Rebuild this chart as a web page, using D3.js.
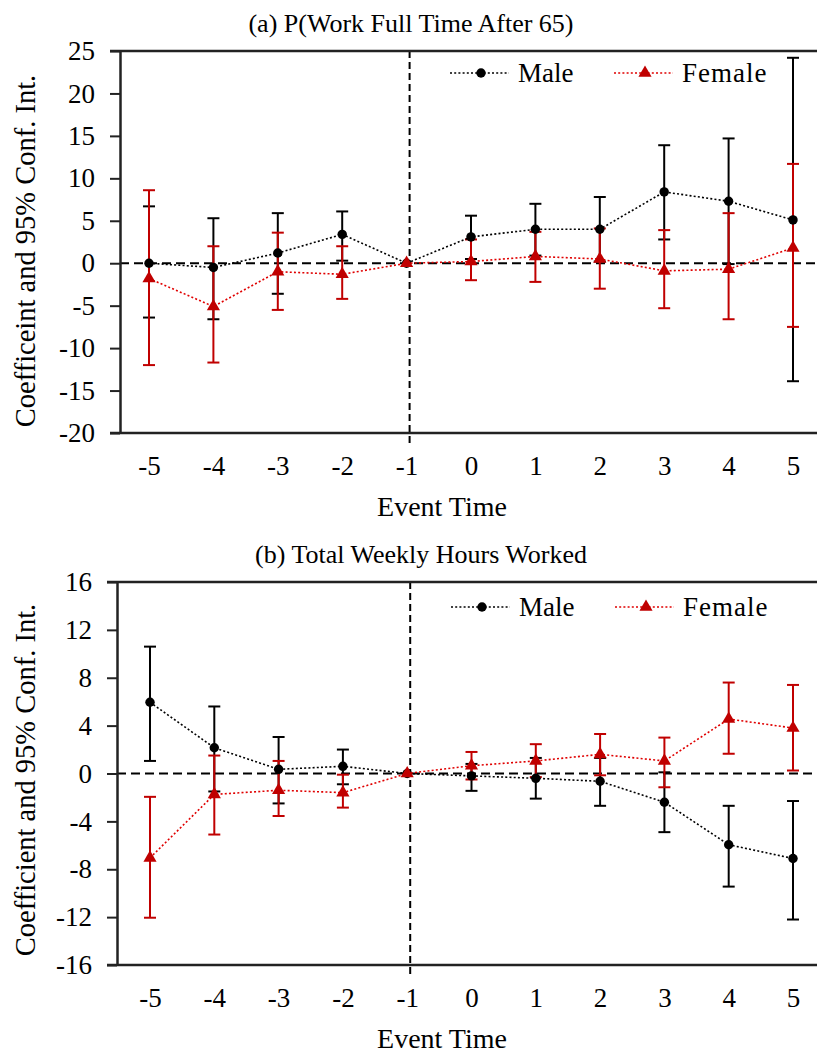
<!DOCTYPE html>
<html>
<head>
<meta charset="utf-8">
<title>Event study</title>
<script src="https://cdn.jsdelivr.net/npm/d3@7"></script>
<style>
*{ margin:0; padding:0; }
body{ background:#fff; }
svg{ display:block; font-family:"Liberation Serif","Times New Roman",serif; }
</style>
</head>
<body>
<script>

var W = 817, H = 1055;

// event time categories
var eventTime = [-5, -4, -3, -2, -1, 0, 1, 2, 3, 4, 5];

// panel a: P(work full time after 65)
var ticksA = [-20, -15, -10, -5, 0, 5, 10, 15, 20, 25];
var maleA    = [0.0, -0.5, 1.2, 3.4, 0, 3.1, 4.0, 4.0, 8.4, 7.3, 5.1];
var maleALo  = [-6.4, -6.6, -3.6, 0.3, null, 0.5, 0.9, 0.2, 2.8, -0.1, -13.9];
var maleAHi  = [6.7, 5.3, 5.9, 6.1, null, 5.6, 7.0, 7.8, 13.9, 14.7, 24.2];
var femaleA   = [-1.8, -5.1, -1.0, -1.3, 0, 0.2, 0.8, 0.5, -0.9, -0.7, 1.8];
var femaleALo = [-12.0, -11.7, -5.5, -4.2, null, -2.0, -2.2, -3.0, -5.3, -6.6, -7.5];
var femaleAHi = [8.6, 2.0, 3.6, 2.0, null, 2.8, 3.7, 4.1, 3.9, 5.9, 11.7];

// panel b: total weekly hours worked
var ticksB = [-16, -12, -8, -4, 0, 4, 8, 12, 16];
var maleB    = [5.95, 2.15, 0.35, 0.6, 0, -0.2, -0.4, -0.65, -2.4, -5.95, -7.1];
var maleBLo  = [1.05, -1.5, -2.5, -0.9, null, -1.45, -2.1, -2.7, -4.9, -9.45, -12.2];
var maleBHi  = [10.6, 5.6, 3.05, 2.0, null, 0.8, 1.3, 1.3, 0.1, -2.7, -2.3];
var femaleB   = [-7.05, -1.75, -1.4, -1.6, 0, 0.65, 1.05, 1.6, 1.05, 4.55, 3.8];
var femaleBLo = [-12.05, -5.1, -3.55, -2.85, null, -0.5, -0.3, -0.15, -1.15, 1.65, 0.25];
var femaleBHi = [-1.95, 1.5, 1.05, -0.1, null, 1.8, 2.45, 3.3, 3.0, 7.6, 7.4];

var RED = "#c00000";

var svg = d3.select("body").append("svg")
	.attr("width", W)
	.attr("height", H);

// plain hyphen for negative numbers, like the original
var fmt = function(d){ return String(d); };

function series(vals, lo, hi){
	return eventTime.map(function(t, i){ return {t: t, v: vals[i], lo: lo[i], hi: hi[i]}; });
}

function panel(p){
	var g = svg.append("g");
	var x = d3.scaleLinear().domain([-5, 5]).range([p.x0, p.x1]);
	var y = d3.scaleLinear().domain(d3.extent(p.ticks)).range([p.bottom, p.top]);

	// title
	g.append("text")
		.attr("x", p.titleX).attr("y", p.top - 19)
		.attr("text-anchor", "middle")
		.style("font-size", "26px")
		.text(p.title);

	// zero line
	g.append("line")
		.attr("x1", p.left).attr("x2", W + 10)
		.attr("y1", y(0)).attr("y2", y(0))
		.attr("stroke", "#000").attr("stroke-width", 2)
		.attr("stroke-dasharray", "9,5");

	// event line
	g.append("line")
		.attr("x1", x(-1) + 3).attr("x2", x(-1) + 3)
		.attr("y1", p.top).attr("y2", p.bottom + 12)
		.attr("stroke", "#000").attr("stroke-width", 2)
		.attr("stroke-dasharray", "7,4");

	// frame: top & bottom lines, left axis
	[p.top, p.bottom].forEach(function(yy){
		g.append("line")
			.attr("x1", p.left - 10).attr("x2", W + 10)
			.attr("y1", yy).attr("y2", yy)
			.attr("stroke", "#222").attr("stroke-width", 2.5);
	});

	var yAxis = g.append("g")
		.attr("transform", "translate(" + p.left + ",0)")
		.call(d3.axisLeft(y).tickValues(p.ticks).tickSize(10).tickPadding(15).tickSizeOuter(0).tickFormat(fmt));
	yAxis.select(".domain").attr("stroke", "#222").attr("stroke-width", 2.5);
	yAxis.selectAll(".tick line").attr("stroke", "#222").attr("stroke-width", 2);
	yAxis.selectAll("text")
		.attr("fill", "#000")
		.style("font-family", "Liberation Serif")
		.style("font-size", "27px");

	// x tick labels
	var xAxis = g.append("g")
		.attr("transform", "translate(0," + p.bottom + ")")
		.call(d3.axisBottom(x).tickValues(eventTime).tickSize(0).tickPadding(23).tickFormat(fmt));
	xAxis.select(".domain").remove();
	xAxis.selectAll("text")
		.attr("fill", "#000")
		.style("font-family", "Liberation Serif")
		.style("font-size", "27px");

	g.append("text")
		.attr("x", 442).attr("y", p.bottom + 83)
		.attr("text-anchor", "middle")
		.style("font-size", "28px")
		.text("Event Time");

	g.append("text")
		.attr("transform", "translate(35," + p.yLabelY + ") rotate(-90)")
		.attr("text-anchor", "middle")
		.style("font-size", "28.5px")
		.text(p.yLabel);

	var groups = [
		{data: series(p.male, p.maleLo, p.maleHi), col: "#000", line: "#000", sym: d3.symbolCircle, size: 70},
		{data: series(p.female, p.femaleLo, p.femaleHi), col: RED, line: "#e00000", sym: d3.symbolTriangle, size: 75}
	];

	// error bars
	groups.forEach(function(s){
		var eb = g.append("g").selectAll("g")
			.data(s.data.filter(function(d){ return d.lo !== null; }))
			.enter().append("g")
			.attr("stroke", s.col).attr("stroke-width", 2);
		eb.append("line")
			.attr("x1", function(d){ return x(d.t); }).attr("x2", function(d){ return x(d.t); })
			.attr("y1", function(d){ return y(d.lo); }).attr("y2", function(d){ return y(d.hi); });
		eb.append("line")
			.attr("x1", function(d){ return x(d.t) - 6; }).attr("x2", function(d){ return x(d.t) + 6; })
			.attr("y1", function(d){ return y(d.lo); }).attr("y2", function(d){ return y(d.lo); });
		eb.append("line")
			.attr("x1", function(d){ return x(d.t) - 6; }).attr("x2", function(d){ return x(d.t) + 6; })
			.attr("y1", function(d){ return y(d.hi); }).attr("y2", function(d){ return y(d.hi); });
	});

	// lines and markers
	var line = d3.line().x(function(d){ return x(d.t); }).y(function(d){ return y(d.v); });
	groups.forEach(function(s){
		g.append("path")
			.datum(s.data)
			.attr("d", line)
			.attr("fill", "none")
			.attr("stroke", s.line).attr("stroke-width", 1.6)
			.attr("stroke-dasharray", "2,2.2");
		g.append("g").selectAll("path")
			.data(s.data).enter().append("path")
			.attr("d", d3.symbol().type(s.sym).size(s.size))
			.attr("transform", function(d){ return "translate(" + x(d.t) + "," + y(d.v) + ")"; })
			.attr("fill", s.col);
	});

	// legend
	var lg = g.append("g").attr("transform", "translate(0," + p.legendY + ")");
	var items = [
		{name: "Male", x0: p.x0 + 301, col: "#000", line: "#000", sym: d3.symbolCircle, size: 70, ls: 0},
		{name: "Female", x0: p.x0 + 465, col: RED, line: "#e00000", sym: d3.symbolTriangle, size: 75, ls: 1}
	];
	items.forEach(function(it){
		lg.append("line")
			.attr("x1", it.x0).attr("x2", it.x0 + 59)
			.attr("y1", 0).attr("y2", 0)
			.attr("stroke", it.line).attr("stroke-width", 1.6)
			.attr("stroke-dasharray", "2,2.2");
		lg.append("path")
			.attr("d", d3.symbol().type(it.sym).size(it.size))
			.attr("transform", "translate(" + (it.x0 + 31) + ",0)")
			.attr("fill", it.col);
		lg.append("text")
			.attr("x", it.x0 + 68).attr("y", 9)
			.style("font-size", "27px")
			.style("letter-spacing", it.ls + "px")
			.text(it.name);
	});
}

panel({
	title: "(a) P(Work Full Time After 65)", titleX: 411,
	yLabel: "Coefficeint and 95% Conf. Int.", yLabelY: 251,
	left: 120, top: 51, bottom: 433, x0: 149, x1: 793,
	ticks: ticksA, legendY: 73,
	male: maleA, maleLo: maleALo, maleHi: maleAHi,
	female: femaleA, femaleLo: femaleALo, femaleHi: femaleAHi
});

panel({
	title: "(b) Total Weekly Hours Worked", titleX: 421,
	yLabel: "Coefficient and 95% Conf. Int.", yLabelY: 780,
	left: 117, top: 582, bottom: 965, x0: 150, x1: 793,
	ticks: ticksB, legendY: 607,
	male: maleB, maleLo: maleBLo, maleHi: maleBHi,
	female: femaleB, femaleLo: femaleBLo, femaleHi: femaleBHi
});

</script>
</body>
</html>
